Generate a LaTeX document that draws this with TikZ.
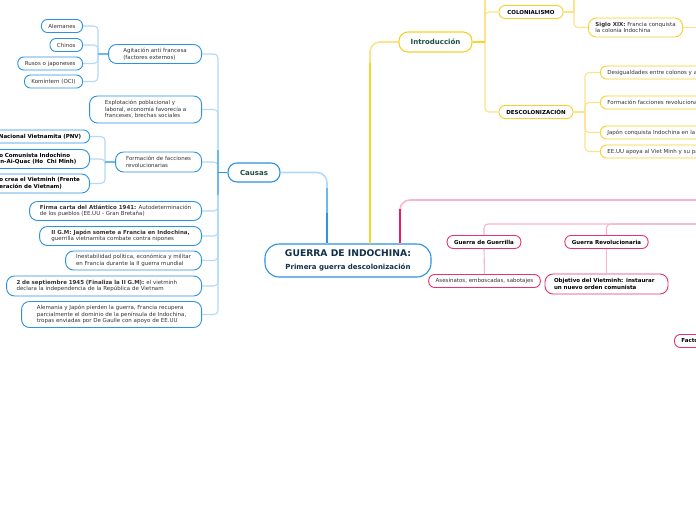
\documentclass[tikz,border=0pt]{standalone}
\usepackage{fontspec}
\setmainfont{DejaVu Sans}
\definecolor{blueB}{HTML}{2B93DF}
\definecolor{blueL}{HTML}{B3DAF6}
\definecolor{blueM}{HTML}{6DB8EE}
\definecolor{blueD}{HTML}{2A95E4}
\definecolor{yelB}{HTML}{F5D12E}
\definecolor{yelL}{HTML}{FBE38A}
\definecolor{yelD}{HTML}{F7D52A}
\definecolor{pinkB}{HTML}{E6336E}
\definecolor{pinkL}{HTML}{F7B6CC}
\definecolor{pinkD}{HTML}{E91E63}
\definecolor{txt}{HTML}{333333}
\definecolor{navy}{HTML}{10304C}
\definecolor{dgreen}{HTML}{1B4D3E}
\begin{document}
\begin{tikzpicture}[x=1pt,y=-1pt,
  base/.style={draw, fill=white, rounded corners=6pt, line width=0.9pt, inner xsep=7pt, inner ysep=3pt,
    minimum height=13pt, align=left, font=\fontsize{5.5}{6.5}\selectfont, text=txt},
  bnode/.style={base, draw=blueB},
  ynode/.style={base, draw=yelB},
  pnode/.style={base, draw=pinkB},
  big/.style={rounded corners=8pt},
  boldtxt/.style={font=\fontsize{5.5}{6.5}\selectfont\bfseries, text=black},
  bl/.style={draw=blueL, line width=1.1pt, rounded corners=4pt},
  bd/.style={draw=blueD, line width=1.6pt},
  yl/.style={draw=yelL, line width=1.1pt, rounded corners=4pt},
  pl/.style={draw=pinkL, line width=1.1pt, rounded corners=4pt},
]
\useasboundingbox (0,0) rectangle (696,520);
\clip (0,0) rectangle (696,520);
\fill[white] (0,0) rectangle (696,520);

% ---------- main node ----------
\node[draw=blueB, fill=white, line width=1.1pt, rounded corners=14pt, minimum width=166pt, minimum height=33pt,
  align=center, text=navy, inner sep=2pt] (main) at (348,260.5)
  {{\fontsize{9.2}{11}\selectfont\bfseries GUERRA DE INDOCHINA:}\\[1pt]{\fontsize{7}{9}\selectfont\bfseries Primera guerra descolonización}};

% ---------- Causas ----------
\node[bnode, line width=1.1pt, rounded corners=9pt, minimum height=19pt, minimum width=52pt, align=center,
  font=\fontsize{7}{8}\selectfont\bfseries, text=dgreen] (causas) at (254,172.5) {Causas};

\node[bnode, big, anchor=east, minimum height=19pt, minimum width=93pt] (ag) at (202,54) {Agitación anti francesa\\(factores externos)};
\node[bnode, big, anchor=east, minimum height=27pt, minimum width=112pt] (ex) at (202,109.5) {Explotación poblacional y\\laboral, economía favorecía a\\franceses, brechas sociales};
\node[bnode, big, anchor=east, minimum height=20pt, minimum width=86pt] (ff) at (202,162) {Formación de facciones\\revolucionarias};
\node[bnode, big, anchor=east, minimum height=19pt, minimum width=172pt] (fc) at (202,211) {\textbf{Firma carta del Atlántico 1941:} Autodeterminación\\de los pueblos (EE.UU - Gran Bretaña)};
\node[bnode, big, anchor=east, minimum height=19pt, minimum width=162pt] (ii) at (202,236) {\textbf{II G.M: Japón somete a Francia en Indochina,}\\guerrilla vietnamita combate contra nipones};
\node[bnode, big, anchor=east, minimum height=19pt, minimum width=136pt] (ins) at (202,260.5) {Inestabilidad política, económica y militar\\en Francia durante la II guerra mundial};
\node[bnode, big, anchor=east, minimum height=20pt, inner xsep=10pt, text width=175pt] (sep) at (202,286) {\textbf{2 de septiembre 1945 (Finaliza la II G.M):} el vietminh\\declara la independencia de la República de Vietnam};
\node[bnode, big, anchor=east, minimum height=26pt, minimum width=180pt] (al) at (202,314.5) {Alemania y Japón pierden la guerra, Francia recupera\\parcialmente el dominio de la península de Indochina,\\tropas enviadas por De Gaulle con apoyo de EE.UU};

% Agitación children
\node[bnode, anchor=east] (a1) at (83,26) {Alemanes};
\node[bnode, anchor=east] (a2) at (83,45) {Chinos};
\node[bnode, anchor=east] (a3) at (83,63.5) {Rusos o japoneses};
\node[bnode, anchor=east] (a4) at (83,81.5) {Komintern (OCI)};

% Formación children
\node[bnode, boldtxt, anchor=east, inner xsep=8pt, text width=107pt] (f1) at (90,136.5) {Partido Nacional Vietnamita (PNV)};
\node[bnode, boldtxt, big, anchor=east, minimum height=19pt, inner xsep=8pt, text width=101pt] (f2) at (90,159) {Partido Comunista Indochino\\Nguyen-Ai-Quac (Ho\ \ Chi Minh)};
\node[bnode, boldtxt, big, anchor=east, minimum height=19pt, inner xsep=8pt, text width=101pt] (f3) at (90,183.5) {Partido crea el Vietminh (Frente\\de Liberación de Vietnam)};

% Causas connectors
\coordinate (jC) at (218,172.5);
\foreach \n in {ag,ex,ff,fc,ii,ins,sep,al} \draw[bl] (\n.east) -| (jC);
\draw[draw=blueM, line width=1.4pt] (218,150) -- (218,195);
\draw[bd] (jC) -- (causas.west);

\coordinate (jA) at (98,54);
\foreach \n in {a1,a2,a3,a4} \draw[bl] (\n.east) -| (jA);
\draw[draw=blueM, line width=1.4pt] (jA) -- (ag.west);

\coordinate (jF) at (105,162);
\foreach \n in {f1,f2,f3} \draw[bl] (\n.east) -| (jF);
\draw[draw=blueM, line width=1.4pt] (jF) -- (ff.west);

% main -> Causas
\coordinate (bX) at (327,0);
\draw[draw=blueL, line width=1.6pt, rounded corners=10pt] (causas.east) -| (main.north -| bX);
\draw[draw=blueM, line width=1.9pt] (main.north -| bX) -- ++(0,-55);
\draw[draw=blueD, line width=2.3pt] (main.north -| bX) -- ++(0,-30);

% ---------- Introducción ----------
\node[ynode, line width=1.1pt, rounded corners=9pt, minimum height=20pt, minimum width=73pt, align=center,
  font=\fontsize{7}{8}\selectfont\bfseries, text=dgreen] (intro) at (435.5,42) {Introducción};
\node[ynode, boldtxt, minimum width=64pt, align=center] (col) at (531,12) {COLONIALISMO};
\node[ynode, big, anchor=west, minimum height=19pt] (s19) at (588,27.5) {\textbf{Siglo XIX:} Francia conquista\\la colonia Indochina};
\node[ynode, boldtxt, minimum width=74pt, align=center] (des) at (536,112) {DESCOLONIZACIÓN};
\node[ynode, anchor=west] (d1) at (600,72.5) {Desigualdades entre colonos y autóctonos};
\node[ynode, anchor=west] (d2) at (600,102.5) {Formación facciones revolucionarias};
\node[ynode, anchor=west] (d3) at (600,132.5) {Japón conquista Indochina en la II G.M};
\node[ynode, anchor=west] (d4) at (600,151.5) {EE.UU apoya al Viet Minh y su partido};

\coordinate (yX) at (370,0);
\draw[draw=yelL, line width=1.6pt, rounded corners=10pt] (intro.west) -| (main.north -| yX);
\draw[draw=yelD, line width=2.1pt] (main.north -| yX) -- ++(0,-180);

\coordinate (jI) at (485,42);
\coordinate (iTop) at (485,-20);
\draw[yl] (col.west) -| (jI);
\draw[yl] (des.west) -| (jI);
\draw[yl] (jI) -- (iTop);
\draw[draw=yelD, line width=1.3pt] (intro.east) -- (jI);

\coordinate (jCo) at (574,12);
\coordinate (coTop) at (574,-20);
\draw[yl] (col.east) -- (jCo);
\draw[yl] (s19.west) -| (jCo);
\draw[yl] (jCo) -- (coTop);
\coordinate (s19R) at (710,27.5);
\draw[yl] (s19.east) -- (s19R);

\coordinate (jD) at (585,112);
\foreach \n in {d1,d2,d3,d4} \draw[yl] (\n.west) -| (jD);
\draw[yl] (des.east) -- (jD);

% ---------- pink branch ----------
\node[pnode, boldtxt, align=center] (gg) at (484,242) {Guerra de Guerrilla};
\node[pnode, boldtxt, align=center] (gr) at (606.5,242) {Guerra Revolucionaria};
\node[pnode, align=center] (ase) at (484.5,281) {Asesinatos, emboscadas, sabotajes};
\node[pnode, boldtxt, big, minimum height=20pt, inner xsep=9pt, text width=105pt] (obj) at (606.5,284) {Objetivo del Vietminh: instaurar\\un nuevo orden comunista};
\node[pnode, boldtxt, anchor=west] (fac) at (674,341) {Factores};

\coordinate (pX) at (400,0);
\coordinate (pR1) at (710,200);
\draw[draw=pinkL, line width=1.6pt, rounded corners=10pt] (pR1) -| (main.north -| pX);
\draw[draw=pinkD, line width=2.1pt] (main.north -| pX) -- ++(0,-34);

\coordinate (pR2) at (710,224);
\draw[pl] (pR2) -| (gg.north);
\draw[pl] (pR2) -| (gr.north);
\draw[pl] (gg.south) -- (ase.north);
\draw[pl] (gr.south) -- (obj.north);
\end{tikzpicture}
\end{document}
